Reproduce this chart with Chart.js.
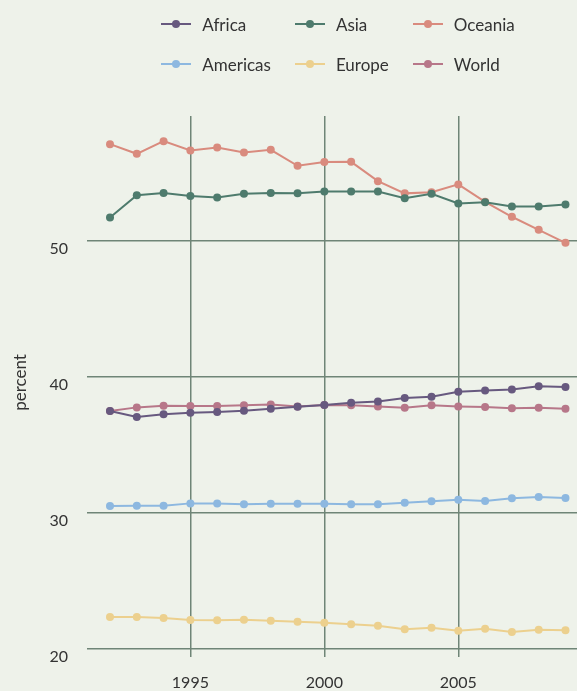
<!DOCTYPE html>
<html>
<head>
<meta charset="utf-8">
<script src="https://cdn.jsdelivr.net/npm/chart.js@4"></script>
<style>
  html, body { margin: 0; padding: 0; background: #eef2ea; }
  #wrap { position: relative; width: 577px; height: 691px; overflow: hidden; }
  #legend {
    position: absolute; left: 97px; top: 4px; width: 482px;
    display: grid; grid-template-columns: auto auto auto;
    justify-content: center; column-gap: 24px;
    font-family: Lato, sans-serif; font-size: 17px; color: #333;
  }
  .item { display: flex; align-items: center; height: 40px; }
  .mark { position: relative; width: 30px; height: 2px; margin-right: 11px; }
  .mark span { position: absolute; left: 11px; top: -3px; width: 8px; height: 8px; border-radius: 50%; }
</style>
</head>
<body>
<div id="wrap">
  <canvas id="myChart" width="577" height="691"></canvas>
  <div id="legend"></div>
</div>
<script>
/* Share of ... (percent) by region, 1992-2009. */
const years = [1992, 1993, 1994, 1995, 1996, 1997, 1998, 1999, 2000,
               2001, 2002, 2003, 2004, 2005, 2006, 2007, 2008, 2009];

const africa   = [37.5, 37.06, 37.26, 37.38, 37.43, 37.52, 37.67, 37.82, 37.94,
                  38.11, 38.21, 38.46, 38.55, 38.92, 39.02, 39.09, 39.32, 39.26];
const asia     = [51.74, 53.38, 53.53, 53.31, 53.21, 53.48, 53.53, 53.51, 53.65,
                  53.65, 53.65, 53.16, 53.48, 52.77, 52.85, 52.55, 52.55, 52.7];
const oceania  = [57.13, 56.42, 57.35, 56.67, 56.89, 56.52, 56.71, 55.54, 55.81,
                  55.83, 54.41, 53.51, 53.6, 54.17, 52.89, 51.79, 50.83, 49.87];
const americas = [30.51, 30.54, 30.54, 30.71, 30.71, 30.64, 30.68, 30.68, 30.68,
                  30.64, 30.64, 30.76, 30.86, 30.98, 30.88, 31.08, 31.18, 31.1];
const europe   = [22.35, 22.35, 22.28, 22.13, 22.11, 22.15, 22.08, 22.01, 21.93,
                  21.82, 21.71, 21.45, 21.57, 21.35, 21.49, 21.25, 21.42, 21.37];
const world    = [37.5, 37.77, 37.89, 37.87, 37.87, 37.92, 37.99, 37.84, 37.94,
                  37.92, 37.84, 37.74, 37.92, 37.84, 37.79, 37.7, 37.74, 37.67];

const names  = ["Africa", "Asia", "Oceania", "Americas", "Europe", "World"];
const series = [africa, asia, oceania, americas, europe, world];
const colors = ["#67597f", "#4e7b6d", "#d98b7e", "#8db8e0", "#ecd08e", "#b77789"];

const yTicks = [20, 30, 40, 50];
const xTicks = [1995, 2000, 2005];

const gridColor = "#6f8577";
const textColor = "#333333";

let datasets = series.map((vals, i) => ({
  label: names[i],
  data: vals.map((v, j) => ({ x: years[j], y: v })),
  borderColor: colors[i],
  backgroundColor: colors[i],
  borderWidth: 2,
  pointRadius: 4,
  pointBorderWidth: 0,
  pointHoverRadius: 4,
  tension: 0,
}));

/* legend as plain html grid, 3 columns */
const legend = document.getElementById("legend");
names.forEach((n, i) => {
  let item = document.createElement("div");
  item.className = "item";
  item.innerHTML = '<div class="mark" style="background:' + colors[i] + '"><span style="background:' +
    colors[i] + '"></span></div>' + n;
  legend.appendChild(item);
});

const ctx = document.getElementById("myChart");
const chart = new Chart(ctx, {
  type: "line",
  data: { datasets: datasets },
  options: {
    responsive: false,
    animation: false,
    layout: { autoPadding: false, padding: { top: 116, right: 0, bottom: 0, left: 0 } },
    plugins: { legend: { display: false }, tooltip: { enabled: false } },
    scales: {
      x: {
        type: "linear",
        min: 1991.44,
        max: 2009.43,
        afterFit: (scale) => { scale.height = 42; },
        afterBuildTicks: (scale) => { scale.ticks = xTicks.map((v) => ({ value: v })); },
        border: { display: false },
        grid: { color: gridColor, lineWidth: 1.5, tickLength: 8 },
        ticks: {
          color: textColor,
          font: { family: "Lato", size: 16 },
          padding: 16,
          maxRotation: 0,
          callback: (v) => String(v),
        },
      },
      y: {
        min: 20,
        max: 59.2,
        afterFit: (scale) => { scale.width = 95; },
        afterBuildTicks: (scale) => { scale.ticks = yTicks.map((v) => ({ value: v })); },
        border: { display: false },
        grid: { color: gridColor, lineWidth: 1.5, tickLength: 8 },
        title: {
          display: true,
          text: "percent",
          color: textColor,
          font: { family: "Lato", size: 17 },
          padding: { top: 10, bottom: 0 },
        },
        ticks: {
          color: textColor,
          font: { family: "Lato", size: 16 },
          padding: 19,
          labelOffset: 8,
        },
      },
    },
  },
});
</script>
</body>
</html>
